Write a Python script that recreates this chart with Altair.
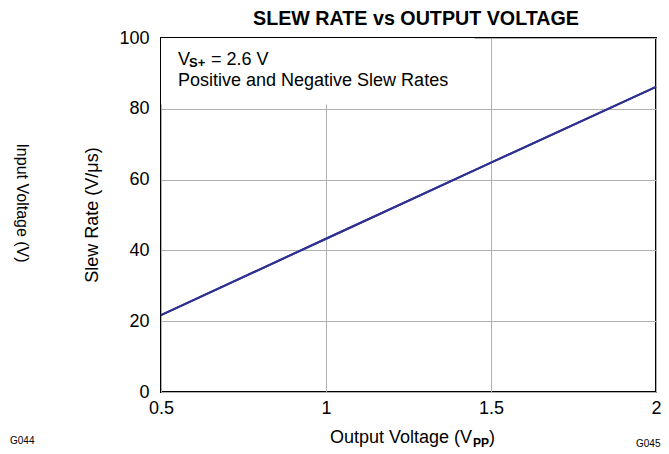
import altair as alt
import pandas as pd

# data
output_vpp = [0.5, 1.0, 1.5, 2.0]
slew_rate = [21.7, 43.3, 64.8, 86.2]
x_ticks = [0.5, 1, 1.5, 2]
y_ticks = [0, 20, 40, 60, 80, 100]
# white background behind annotation text (data coords)
note_box_x = [0.5, 1.45]
note_box_y = [81.2, 100]

FONT = "Liberation Sans"
W, H = 495, 354

df = pd.DataFrame({"x": output_vpp, "y": slew_rate})
xs = alt.Scale(domain=[0.5, 2], nice=False, zero=False)
ys = alt.Scale(domain=[0, 100], nice=False)

line = alt.Chart(df).mark_line(color="#2e3192", strokeWidth=2).encode(
    x=alt.X("x:Q", scale=xs, axis=alt.Axis(values=x_ticks, title=None, grid=True,
            gridColor="#b0b0b0", gridWidth=1, ticks=False, domain=False,
            labelFlush=False, labelOverlap=False, labelBound=False,
            labelFont=FONT, labelFontSize=18, labelColor="#000", labelPadding=7,
            labelExpr="datum.value == 0.5 ? '0.5' : datum.value == 1.5 ? '1.5' : format(datum.value, 'd')")),
    y=alt.Y("y:Q", scale=ys, axis=alt.Axis(values=y_ticks, title=None, grid=True,
            gridColor="#b0b0b0", gridWidth=1, ticks=False, domain=False,
            labelFlush=False, labelOverlap=False, labelBound=False,
            labelFont=FONT, labelFontSize=18, labelColor="#000", labelPadding=12)),
)

box = alt.Chart(pd.DataFrame({"x": [note_box_x[0]], "x2": [note_box_x[1]],
                              "y": [note_box_y[0]], "y2": [note_box_y[1]]})).mark_rect(
    color="white").encode(x=alt.X("x:Q", scale=xs), x2="x2:Q",
                          y=alt.Y("y:Q", scale=ys), y2="y2:Q")

def txt(t, x, y, size=18, weight="normal", angle=0, align="left", baseline="alphabetic"):
    return alt.Chart(pd.DataFrame({"t": [t]})).mark_text(
        font=FONT, fontSize=size, fontWeight=weight, angle=angle, align=align,
        baseline=baseline, color="#000").encode(
        text="t:N", x=alt.value(x), y=alt.value(y))

texts = [
    txt("SLEW RATE vs OUTPUT VOLTAGE", 255, -13, size=19.7, weight="bold", align="center"),
    txt("V", 17, 26.5),
    txt("S+", 28, 28.5, size=13, weight="bold"),
    txt("= 2.6 V", 50, 26.5),
    txt("Positive and Negative Slew Rates", 17, 48),
    # x title
    txt("Output Voltage (V", 311, 405, align="right"),
    txt("PP", 312, 409, size=12, weight="bold"),
    txt(")", 328, 405),
    # y titles
    txt("Slew Rate (V/\u03bcs)", -68, 177, angle=270, align="center", baseline="middle"),
    txt("Input Voltage (V)", -139, 165, size=16, angle=90, align="center", baseline="middle"),
    txt("G044", -151, 406, size=10),
    txt("G045", 475, 409, size=10),
]

chart = alt.layer(line, box, line.encode(), *texts).properties(
    width=W, height=H,
    autosize=alt.AutoSizeParams(type="none"),
    padding={"left": 153, "top": 30, "right": 5, "bottom": 60},
).configure_view(stroke="#000", strokeWidth=2)

chart.save("out.html", embed_options={"renderer": "svg", "actions": False})
